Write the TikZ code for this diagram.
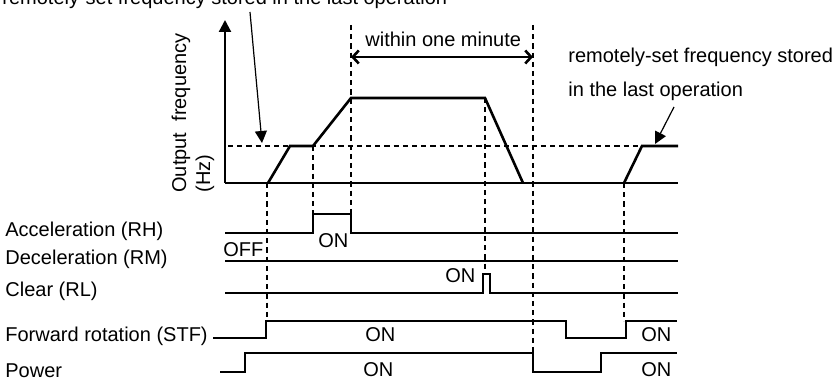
\documentclass[tikz,border=0pt]{standalone}
\usepackage{fontspec}
\setmainfont{Liberation Sans}
\usetikzlibrary{positioning,arrows.meta}

\begin{document}
\begin{tikzpicture}[
  x=0.5pt, y=-0.5pt,
  >=Stealth,
  axis/.style={line width=1.1pt, -{Triangle[length=6pt,width=6pt]}},
  base/.style={line width=1pt},
  freq/.style={line width=1.3pt, line join=miter},
  sig/.style={line width=1pt, line join=miter},
  guide/.style={line width=0.6pt, dash pattern=on 2.6pt off 2pt},
  note/.style={font=\normalsize, inner sep=0pt},
  callout/.style={line width=0.6pt, -{Triangle[length=6pt,width=6pt]}},
  span/.style={line width=1.3pt, {Straight Barb[length=3pt,width=6.5pt]}-{Straight Barb[length=3pt,width=6.5pt]}}
]
\useasboundingbox (0,0) rectangle (836,379);

% axes
\coordinate (O) at (225,183);
\coordinate (ytop) at (225,20);
\coordinate (xend) at (678,183);
\draw[axis] (O) -- (ytop);
\draw[base] (O) -- (xend);
\draw[guide] (228,146) -- (678,146);

% output frequency
\draw[freq] (268,183) -- (290,146) -- (313,146) -- (351,98) -- (485,98) -- (523,183);
\draw[freq] (624,183) -- (642,146) -- (678,146);

% time marks
\foreach \x/\a/\b in {267/183/321, 313/146/214, 351/25/214, 485/98/274, 533/25/353, 624/183/321}
  \draw[guide] (\x,\a) -- (\x,\b);

% signals
\draw[sig] (225,233) -- (313,233) -- (313,214) -- (351,214) -- (351,233) -- (678,233);
\draw[sig] (225,261) -- (678,261);
\draw[sig] (225,293) -- (483,293) -- (483,274) -- (490,274) -- (490,293) -- (678,293);
\draw[sig] (213,338) -- (266,338) -- (266,321) -- (566,321) -- (566,338) -- (626,338) -- (626,321) -- (677,321);
\draw[sig] (220,372) -- (245,372) -- (245,353) -- (533,353) -- (533,372) -- (601,372) -- (601,353) -- (677,353);

% signal names
\node[note, anchor=base west] (rh) at (5,237) {Acceleration (RH)};
\node[note, anchor=base west] (rm) at (5,265) {Deceleration (RM)};
\node[note, anchor=base west] (rl) at (5,297) {Clear (RL)};
\node[note, anchor=base west] (stf) at (5,342) {Forward rotation (STF)};
\node[note, anchor=base west] (pwr) at (5,378) {Power};

% states
\node[note, anchor=base west] (off) at (223,257) {OFF};
\node[note, anchor=base west] (onrh) at (318,248) {ON};
\node[note, anchor=base west] (onrl) at (445,283) {ON};
\node[note, anchor=base west] (onstf1) at (365,342) {ON};
\node[note, anchor=base west] (onstf2) at (641,342) {ON};
\node[note, anchor=base west] (onpwr1) at (363,377) {ON};
\node[note, anchor=base west] (onpwr2) at (641,377) {ON};

% axis title
\node[note, rotate=90, anchor=base west] (ylbl) at (186,193) {Output\ \ frequency};
\node[note, rotate=90, anchor=base west] (yunit) at (210,193) {(Hz)};

% one minute span
\coordinate (spanL) at (351,57);
\coordinate (spanR) at (533,57);
\draw[span] (spanL) -- (spanR);
\node[note, anchor=base west] (minute) at (365,47) {within one minute};

% stored frequency notes
\node[note, anchor=base west] (topnote) at (2,5) {remotely-set frequency stored in the last operation};
\coordinate (srcA) at (250,12);
\coordinate (tgtA) at (262,143);
\draw[callout] (srcA) -- (tgtA);

\node[note, anchor=base west] (rnote1) at (568,63) {remotely-set frequency stored};
\node[note, anchor=base west] (rnote2) at (568,97) {in the last operation};
\coordinate (srcB) at (674,107);
\coordinate (tgtB) at (655,144);
\draw[callout] (srcB) -- (tgtB);
\end{tikzpicture}
\end{document}
